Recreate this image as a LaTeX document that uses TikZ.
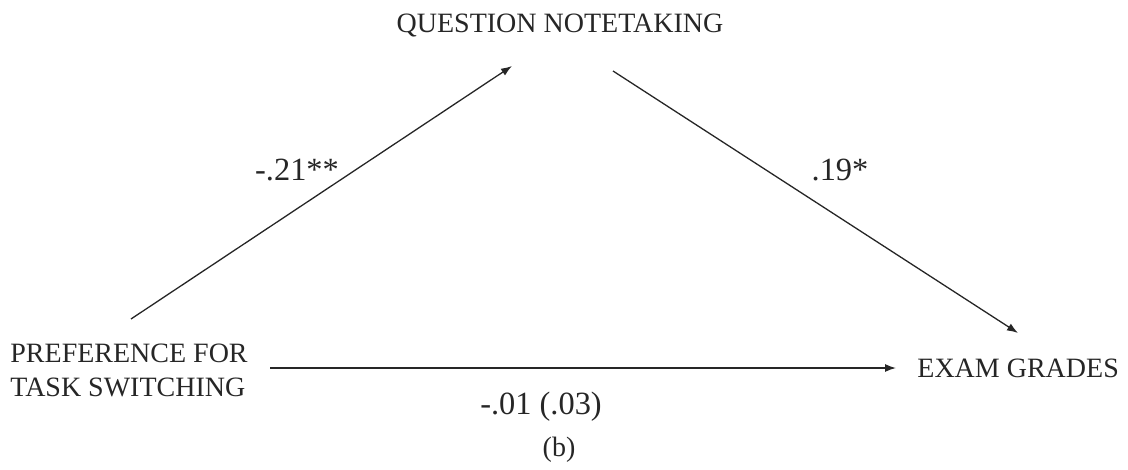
\documentclass[tikz,border=0pt]{standalone}
\usepackage{fontspec}
\setmainfont{Liberation Serif}
\usetikzlibrary{arrows.meta}
\begin{document}
\begin{tikzpicture}[x=0.5pt,y=-0.5pt,
  lab/.style={font=\fontsize{14}{17}\selectfont, inner sep=0pt, text=black!85},
  num/.style={font=\fontsize{16.2}{19}\selectfont, inner sep=0pt, text=black!85},
  conn/.style={draw=black!85, line width=0.65pt, -{Latex[length=5.5pt,width=4pt]}}]
\useasboundingbox (0,0) rectangle (1128,470);
\node[lab] (qn) at (560,26) {QUESTION NOTETAKING};
\node[lab, align=left, anchor=west] (pref) at (10,370) {PREFERENCE FOR\\TASK SWITCHING};
\node[lab, anchor=west] (exam) at (917,368) {EXAM GRADES};
\node[num] (a) at (297,170) {-.21**};
\node[num] (b) at (840,170) {.19*};
\node[num] (c) at (541,407) {-.01 (.03)};
\node[lab] (cap) at (559,450) {(b)};
\coordinate (p1) at (131,319);
\coordinate (q1) at (512,66);
\coordinate (q2) at (613,71);
\coordinate (e1) at (1018,333);
\coordinate (p2) at (270,368);
\coordinate (e2) at (896,368);
\draw[conn] (p1) -- (q1);
\draw[conn] (q2) -- (e1);
\draw[conn] (p2) -- (e2);
\end{tikzpicture}
\end{document}
